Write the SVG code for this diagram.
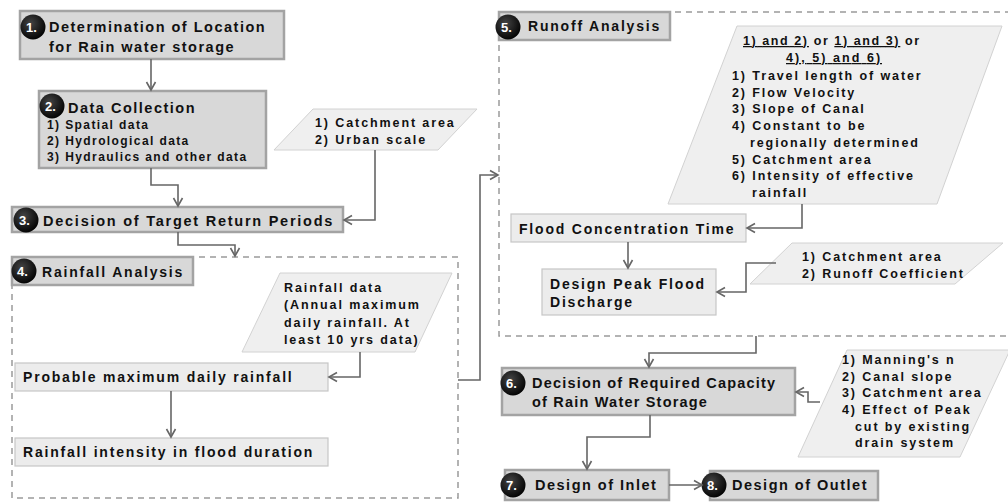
<svg xmlns="http://www.w3.org/2000/svg" width="1008" height="502" viewBox="0 0 1008 502">
<defs>
<marker id="arr" markerUnits="userSpaceOnUse" markerWidth="12" markerHeight="12" refX="9" refY="6" orient="auto">
<path d="M1,1.5 L9,6 L1,10.5" fill="none" stroke="#666" stroke-width="1.6"/>
</marker>
<radialGradient id="bg" cx="0.4" cy="0.35" r="0.7">
<stop offset="0" stop-color="#444"/>
<stop offset="1" stop-color="#000"/>
</radialGradient>
</defs>
<style>
text{font-family:"Liberation Sans",Arial,sans-serif;font-weight:bold;fill:#111}
.main{fill:#d8d8d8;stroke:#a3a3a3;stroke-width:2.5}
.sub{fill:#ececec;stroke:#c6c6c6;stroke-width:1.2}
.para{fill:#efefef;stroke:#d2d2d2;stroke-width:1}
.dash{fill:none;stroke:#9a9a9a;stroke-width:1.5;stroke-dasharray:6,5}
.conn{fill:none;stroke:#666;stroke-width:1.6;marker-end:url(#arr)}
.t15{font-size:14.5px;letter-spacing:1.5px}
.t14{font-size:14px;letter-spacing:1.8px}
.t12{font-size:12px;letter-spacing:1.4px}
.tp{font-size:12.5px;letter-spacing:1.9px}
.badge{fill:url(#bg)}
.bn{fill:#fff;font-size:13px;letter-spacing:0}
</style>

<g id="container4"><rect class="dash" x="12" y="257" width="446" height="241"/></g>
<g id="container5"><rect class="dash" x="499" y="12" width="515" height="324"/></g>

<g id="n1">
<rect class="main" x="20" y="11" width="264" height="48"/>
<circle class="badge" cx="33" cy="27" r="12.5"/><text class="bn" x="26" y="32">1.</text>
<text class="t15" x="49" y="32">Determination of Location</text>
<text class="t15" x="49" y="52">for Rain water storage</text>
</g>

<g id="n2">
<rect class="main" x="39" y="91" width="227" height="77"/>
<circle class="badge" cx="52" cy="106" r="12.5"/><text class="bn" x="45" y="111">2.</text>
<text class="t15" x="68" y="113">Data Collection</text>
<text class="t12" x="47" y="129">1) Spatial data</text>
<text class="t12" x="47" y="145">2) Hydrological data</text>
<text class="t12" x="47" y="161">3) Hydraulics and other data</text>
</g>

<g id="p1">
<polygon class="para" points="313,109 477,109 438,150 274,150"/>
<text class="tp" x="315" y="127">1) Catchment area</text>
<text class="tp" x="315" y="144">2) Urban scale</text>
</g>

<g id="n3">
<rect class="main" x="12" y="207" width="331" height="25"/>
<circle class="badge" cx="26" cy="220" r="12.5"/><text class="bn" x="19" y="225">3.</text>
<text class="t15" x="43" y="226" style="letter-spacing:1.75px">Decision of  Target Return Periods</text>
</g>

<g id="n4">
<rect class="main" x="12" y="257" width="181" height="28"/>
<circle class="badge" cx="24" cy="271" r="12.5"/><text class="bn" x="17" y="276">4.</text>
<text class="t14" x="42" y="277">Rainfall Analysis</text>
</g>

<g id="p2">
<polygon class="para" points="280,273 452,273 415,352 242,352"/>
<text class="tp" x="284" y="292">Rainfall data</text>
<text class="tp" x="284" y="309">(Annual maximum</text>
<text class="tp" x="284" y="327">daily rainfall. At</text>
<text class="tp" x="284" y="344">least 10 yrs data)</text>
</g>

<g id="n4a">
<rect class="sub" x="15" y="363" width="313" height="28"/>
<text class="t14" x="23" y="382">Probable maximum daily rainfall</text>
</g>

<g id="n4b">
<rect class="sub" x="15" y="438" width="313" height="28"/>
<text class="t14" x="23" y="457">Rainfall intensity in flood duration</text>
</g>

<g id="n5">
<rect class="main" x="499" y="12" width="171" height="28"/>
<circle class="badge" cx="508" cy="27" r="12.5"/><text class="bn" x="501" y="32">5.</text>
<text class="t14" x="528" y="31">Runoff Analysis</text>
</g>

<g id="p3">
<polygon class="para" points="737,26 1002,26 937,204 668,204"/>
<text class="tp" x="743" y="45" textLength="178" lengthAdjust="spacing"><tspan text-decoration="underline">1) and 2)</tspan> or <tspan text-decoration="underline">1) and 3)</tspan> or</text>
<text class="tp" x="786" y="62" textLength="96" lengthAdjust="spacing" text-decoration="underline">4), 5) and 6)</text>
<text class="tp" x="732" y="80">1) Travel length of water</text>
<text class="tp" x="732" y="97">2) Flow Velocity</text>
<text class="tp" x="732" y="113">3) Slope of Canal</text>
<text class="tp" x="732" y="130">4) Constant to be</text>
<text class="tp" x="750" y="147">regionally determined</text>
<text class="tp" x="732" y="164">5) Catchment area</text>
<text class="tp" x="732" y="180">6) Intensity of effective</text>
<text class="tp" x="752" y="197">rainfall</text>
</g>

<g id="n5a">
<rect class="sub" x="511" y="214" width="235" height="28"/>
<text class="t14" x="519" y="234">Flood Concentration Time</text>
</g>

<g id="p4">
<polygon class="para" points="792,243 1003,243 955,284 750,284"/>
<text class="tp" x="802" y="261">1) Catchment area</text>
<text class="tp" x="802" y="278">2) Runoff Coefficient</text>
</g>

<g id="n5b">
<rect class="sub" x="542" y="269" width="174" height="46"/>
<text class="t14" x="550" y="289">Design Peak Flood</text>
<text class="t14" x="550" y="307">Discharge</text>
</g>

<g id="n6">
<rect class="main" x="502" y="368" width="293" height="47"/>
<circle class="badge" cx="513" cy="383" r="12.5"/><text class="bn" x="506" y="388">6.</text>
<text class="t15" x="532" y="388" style="letter-spacing:1.2px">Decision of Required Capacity</text>
<text class="t15" x="532" y="407" style="letter-spacing:1.2px">of Rain Water Storage</text>
</g>

<g id="p5">
<polygon class="para" points="847,350 1010,350 960,457 798,457"/>
<text class="tp" x="842" y="364">1) Manning's n</text>
<text class="tp" x="842" y="381">2) Canal slope</text>
<text class="tp" x="842" y="397">3) Catchment area</text>
<text class="tp" x="842" y="414">4) Effect of Peak</text>
<text class="tp" x="855" y="431">cut by existing</text>
<text class="tp" x="855" y="447">drain system</text>
</g>

<g id="n7">
<rect class="main" x="505" y="470" width="164" height="30"/>
<circle class="badge" cx="513" cy="485" r="12.5"/><text class="bn" x="506" y="490">7.</text>
<text class="t15" x="535" y="490">Design of Inlet</text>
</g>

<g id="n8">
<rect class="main" x="710" y="471" width="168" height="29"/>
<circle class="badge" cx="714" cy="485" r="12.5"/><text class="bn" x="707" y="490">8.</text>
<text class="t15" x="732" y="490">Design of Outlet</text>
</g>

<g id="connectors">
<path class="conn" d="M151,59 V90"/>
<path class="conn" d="M151,168 V185 H178 V206"/>
<path class="conn" d="M375,150 V220 H344"/>
<path class="conn" d="M178,232 V245 H235 V256"/>
<path class="conn" d="M360,352 V377 H329"/>
<path class="conn" d="M171,391 V437"/>
<path class="conn" d="M458,380 H480 V175 H498"/>
<path class="conn" d="M802,204 V228 H747"/>
<path class="conn" d="M628,242 V268"/>
<path class="conn" d="M776,263 H746 V292 H717"/>
<path class="conn" d="M756,336 V353 H649 V367"/>
<path class="conn" d="M820,402 H808 V392 H796"/>
<path class="conn" d="M650,415 V437 H587 V469"/>
<path class="conn" d="M669,485 H702"/>
</g>
</svg>
